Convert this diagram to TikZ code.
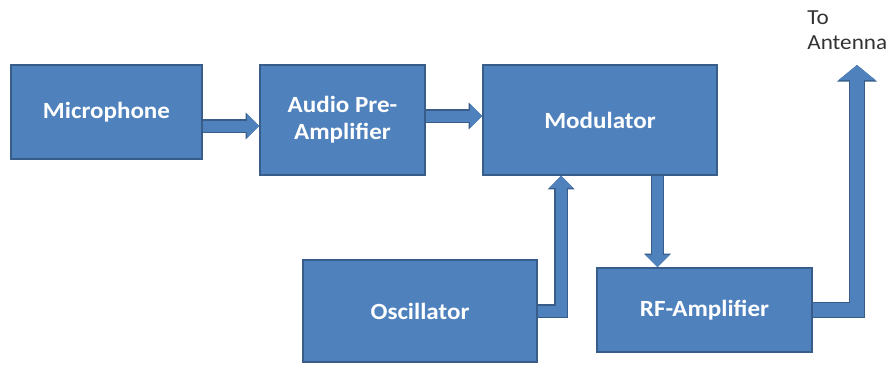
\documentclass[tikz,border=0pt]{standalone}
\usepackage{fontspec}
\setsansfont[FakeStretch=1.08]{Carlito}
\usetikzlibrary{arrows.meta, calc}
\definecolor{BoxBlue}{rgb}{0.31, 0.506, 0.741}
\definecolor{EdgeBlue}{rgb}{0.22, 0.365, 0.541}
\definecolor{NoteGray}{rgb}{0.2, 0.2, 0.2}

\begin{document}
\begin{tikzpicture}[font=\sffamily,
    block/.style={draw=EdgeBlue, line width=0.9pt, fill=BoxBlue, text=white, align=center,
                  inner sep=0pt, font=\sffamily\bfseries\fontsize{13.2}{15.3}\selectfont},
    flow/.style={draw=BoxBlue, line width=0.22cm, -{Triangle[length=0.24cm, width=0.46cm]},
                 preaction={draw=EdgeBlue, line width=0.27cm, -{Triangle[length=0.27cm, width=0.52cm]}}},
    bigflow/.style={draw=BoxBlue, line width=0.27cm, -{Triangle[length=0.3cm, width=0.72cm]},
                 preaction={draw=EdgeBlue, line width=0.32cm, -{Triangle[length=0.33cm, width=0.78cm]}}}]

\useasboundingbox (0,0) rectangle (17.9,-7.5);

% --- bloques ---
\node[block, minimum width=3.82cm, minimum height=1.88cm] (mic) at (2.13,-2.24) {Microphone};
\node[block, minimum width=3.30cm, minimum height=2.20cm] (amp) at (6.85,-2.40) {Audio Pre-\\Amplifier};
\node[block, minimum width=4.68cm, minimum height=2.20cm] (mod) at (12.00,-2.40) {Modulator};
\node[block, minimum width=4.68cm, minimum height=2.04cm] (osc) at (8.40,-6.22) {Oscillator};
\node[block, minimum width=4.30cm, minimum height=1.68cm] (rf) at (14.09,-6.20) {RF-Amplifier};

% --- antena ---
\node[text=NoteGray, align=left, anchor=north west, inner sep=0pt,
      font=\sffamily\fontsize{12.2}{14.5}\selectfont] (ant) at (16.14,-0.2) {To\\Antenna};
\coordinate (antin) at (17.14,-1.30);

% --- puntos de entrada / salida ---
\coordinate (oscin) at ($(mod.south west)!0.335!(mod.south east)$);
\coordinate (modout) at ($(mod.south west)!0.744!(mod.south east)$);

% --- conexiones ---
\draw[flow] ([yshift=-0.28cm]mic.east) -- ([yshift=-0.28cm]mic.east -| amp.west);
\draw[flow] ([yshift=0.08cm]amp.east) -- ([yshift=0.08cm]amp.east -| mod.west);
\draw[flow] (osc.east) -| (oscin);
\draw[flow] (modout) -- (modout |- rf.north);
\draw[bigflow] (rf.east) -| (antin);

\end{tikzpicture}
\end{document}
